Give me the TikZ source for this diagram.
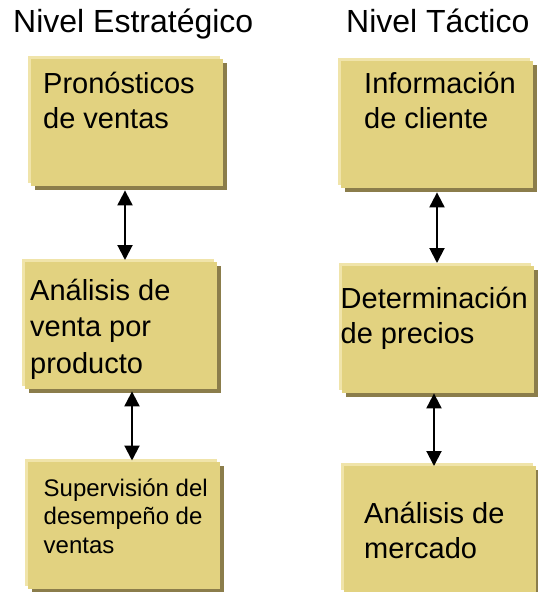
\documentclass[tikz,border=0pt]{standalone}
\usepackage{fontspec}
\setmainfont{Liberation Sans}
\usetikzlibrary{shadows,calc,arrows.meta}
\definecolor{boxfill}{RGB}{226,210,128}
\definecolor{boxlight}{RGB}{240,228,170}
\definecolor{boxshadow}{RGB}{139,125,75}
\tikzset{
  box/.style={anchor=north west, inner sep=0pt, minimum width=192pt, minimum height=127pt,
    fill=boxfill, draw=none,
    general shadow={fill=boxshadow, shadow xshift=3.5pt, shadow yshift=-3.5pt},
    general shadow={fill=boxlight, shadow xshift=-3pt, shadow yshift=3pt}},
  title/.style={anchor=base west, inner sep=0pt, font=\fontsize{32}{38}\selectfont},
  boxtext/.style={anchor=base west, inner sep=0pt, font=\fontsize{29}{35}\selectfont},
  biarrow/.style={line width=2pt, {Triangle[width=15pt,length=15pt]}-{Triangle[width=15pt,length=15pt]}}
}
\newcommand{\mylines}[1]{\begin{tabular}[t]{@{}l@{}}#1\end{tabular}}
\begin{document}
\begin{tikzpicture}[x=1pt,y=-1pt]
\useasboundingbox (0,0) rectangle (538,592);
\node[title] (t1) at (13,32) {Nivel Estratégico};
\node[title] (t2) at (346,32) {Nivel Táctico};

\node[box] (b1) at (31,59) {};
\node[box] (b2) at (341,61) {};
\node[box] (b3) at (25,262) {};
\node[box] (b4) at (342,266) {};
\node[box] (b5) at (28,462) {};
\node[box] (b6) at (344,466) {};

\node[boxtext] (x1) at (43,93) {\mylines{Pronósticos\\de ventas}};
\node[boxtext] (x2) at (364,93) {\mylines{Información\\de cliente}};
\node[boxtext, font=\fontsize{29}{36.5}\selectfont] (x3) at (30,300) {\mylines{Análisis de\\venta por\\producto}};
\node[boxtext] (x4) at (340.5,308) {\mylines{Determinación\\de precios}};
\node[boxtext, font=\fontsize{24}{28.5}\selectfont] (x5) at (43.5,496) {\mylines{Supervisión del\\desempeño de\\ventas}};
\node[boxtext] (x6) at (364,523) {\mylines{Análisis de\\mercado}};

\draw[biarrow] ($(b1.south west)+(94,4)$) -- ($(b3.north west)+(100,-2)$);
\draw[biarrow] ($(b2.south west)+(96,4)$) -- ($(b4.north west)+(95,-3)$);
\draw[biarrow] ($(b3.south west)+(107,2)$) -- ($(b5.north west)+(104,-1.5)$);
\draw[biarrow] ($(b4.south west)+(92,0)$) -- ($(b6.north west)+(90,0)$);
\end{tikzpicture}
\end{document}
